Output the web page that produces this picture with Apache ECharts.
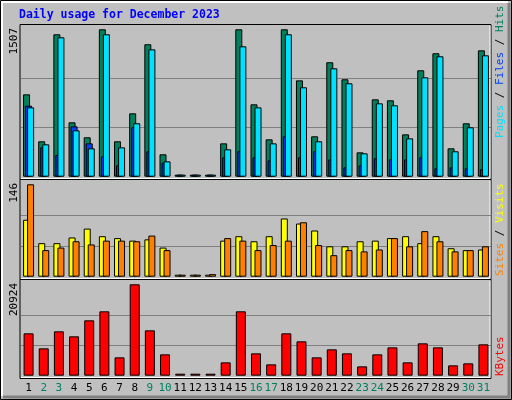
<!DOCTYPE html>
<html><head><meta charset="utf-8">
<script src="https://cdn.jsdelivr.net/npm/echarts@6/dist/echarts.min.js"></script>
<style>html,body{margin:0;padding:0;background:#c0c0c0}#c{width:512px;height:400px}</style>
</head><body><div id="c"></div>
<script>
const days = Array.from({length:31},(_,i)=>String(i+1));
const weekend = [2,3,9,10,16,17,23,24,30,31];
const hits  = [842,362,1456,556,403,1507,362,648,1354,229,0,0,0,341,1507,740,382,1507,985,413,1170,996,249,791,781,433,1088,1262,290,546,1292];
const files = [709,331,1425,474,290,1456,300,546,1302,157,0,0,0,280,1333,709,341,1456,914,362,1108,955,239,750,730,392,1016,1231,260,505,1241];
const pages = [726,300,222,515,341,208,116,505,260,143,0,0,0,198,260,198,167,413,198,260,177,96,116,188,177,177,198,86,96,86,75];
const sites = [90,53,53,62,76,64,61,57,59,46,0,0,0,57,64,56,64,92,84,73,48,48,56,57,61,64,53,64,45,42,43];
const visits= [146,42,46,56,51,57,57,56,65,42,0,0,4,61,57,42,50,57,86,50,34,42,40,43,61,48,72,56,40,42,48];
const kbytes= [9699,6262,10157,9012,12677,14739,4200,20924,10386,4888,0,0,0,3055,14739,5117,2597,9699,7866,4200,6033,5117,2138,4888,6491,3055,7408,6491,2367,2826,7179];
const yMax = [1507,146,20924];
const title = 'Daily usage for December 2023';

const mono = 'DejaVu Sans Mono';
const grids = [
  {left:21,right:21,top:29.3,height:147.4},
  {left:21,right:21,top:184.3,height:92.4},
  {left:21,right:21,top:284.3,height:91.4}
];
function xa(i){
  return {type:'category',gridIndex:i,data:days,axisLine:{show:false},axisTick:{show:false},
    axisLabel:{show:i===2,margin:7,fontFamily:mono,fontSize:11,interval:0,
      color:(v)=>weekend.includes(+v)?'#008060':'#000'}};
}
function ya(i){
  return {type:'value',gridIndex:i,min:0,max:yMax[i],interval:yMax[i]/3,axisLabel:{show:false},
    axisLine:{show:false},axisTick:{show:false},
    splitLine:{show:true,showMinLine:false,showMaxLine:false,lineStyle:{color:'#808080',width:1}}};
}
function bar(name,data,color,g,w,gap){
  return {name,type:'bar',xAxisIndex:g,yAxisIndex:g,data,barWidth:w,barGap:gap,barMinHeight:2,
    silent:true,animation:false,itemStyle:{color,borderColor:'#000',borderWidth:1}};
}
function panel(y1,y2){
  return [
    {type:'rect',shape:{x:20,y:y1,width:471,height:y2-y1},style:{fill:'none',stroke:'#000',lineWidth:1}},
    {type:'polyline',shape:{points:[[21,y2-1],[490,y2-1],[490,y1+1]]},style:{fill:'none',stroke:'#fff',lineWidth:1}}
  ];
}
function ylab(t,y){
  return {type:'text',x:14,y:y,rotation:Math.PI/2,style:{text:t,fontFamily:mono,fontSize:11,fill:'#000',align:'right',verticalAlign:'middle'}};
}
function rlab(parts,y){
  return {type:'text',x:500,y:y,rotation:Math.PI/2,style:{text:parts.map(p=>'{'+p[1]+'|'+p[0]+'}').join(''),
    fontFamily:mono,fontSize:11,align:'left',verticalAlign:'middle',
    rich:{pg:{fill:'#00E0FF',fontFamily:mono,fontSize:11},fi:{fill:'#0040FF',fontFamily:mono,fontSize:11},
          hi:{fill:'#00805C',fontFamily:mono,fontSize:11},sl:{fill:'#000',fontFamily:mono,fontSize:11},
          si:{fill:'#FF8000',fontFamily:mono,fontSize:11},vi:{fill:'#FFFF00',fontFamily:mono,fontSize:11},
          kb:{fill:'#FF0000',fontFamily:mono,fontSize:11}}}};
}
const chart = echarts.init(document.getElementById('c'),null,{renderer:'canvas'});
chart.setOption({
  backgroundColor:'#c0c0c0',animation:false,
  grid:grids, xAxis:[xa(0),xa(1),xa(2)], yAxis:[ya(0),ya(1),ya(2)],
  series:[
    bar('Hits',hits,'#00805C',0,7,'-71%'),
    bar('Pages',pages,'#0040FF',0,7,'-71%'),
    bar('Files',files,'#00E0FF',0,7,'-71%'),
    bar('Sites',sites,'#FFFF00',1,7,'-43%'),
    bar('Visits',visits,'#FF8000',1,7,'-43%'),
    bar('KBytes',kbytes,'#FF0000',2,10,'0%')
  ],
  graphic:[
    {type:'group',silent:true,z:-1,children:[
      {type:'rect',shape:{x:0.5,y:0.5,width:511,height:399},style:{fill:'#c0c0c0',stroke:'#000',lineWidth:1}},
      {type:'polyline',shape:{points:[[2,396],[2,2],[508,2]]},style:{fill:'none',stroke:'#fff',lineWidth:2}},
      {type:'polyline',shape:{points:[[3,397],[509,397],[509,3]]},style:{fill:'none',stroke:'#808080',lineWidth:3}}
    ]},
    ...panel(24.5,179.5),...panel(179.5,279.5),...panel(279.5,378.5),
    {type:'text',x:19,y:15,style:{text:title,fontFamily:mono,fontSize:11.5,fontWeight:'bold',fill:'#0000FF',verticalAlign:'middle'}},
    ylab(String(yMax[0]),28),ylab(String(yMax[1]),183),ylab(String(yMax[2]),283),
    rlab([['Pages','pg'],[' / ','sl'],['Files','fi'],[' / ','sl'],['Hits','hi']],138),
    rlab([['Sites','si'],[' / ','sl'],['Visits','vi']],276),
    rlab([['KBytes','kb']],376)
  ]
});
</script></body></html>
